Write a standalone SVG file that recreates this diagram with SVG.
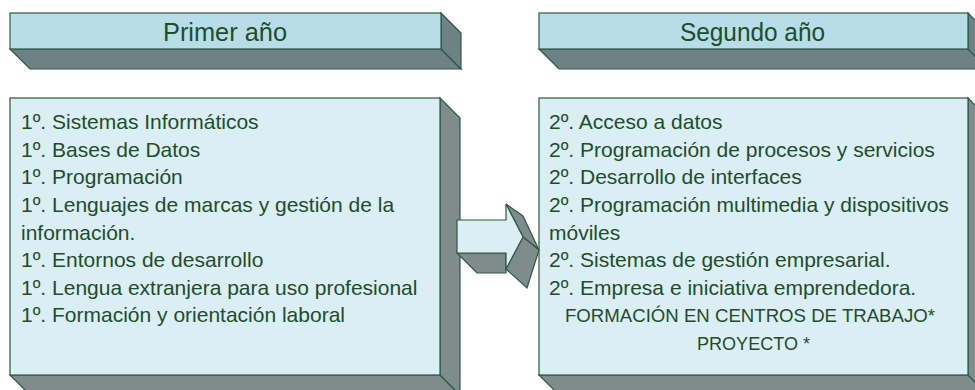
<svg xmlns="http://www.w3.org/2000/svg" width="975" height="390" viewBox="0 0 975 390">
<style>
.hf{fill:#B7DDE8;stroke:#2B5A40;stroke-width:1.2}
.hs{fill:#6E8286;stroke:#2B5A40;stroke-width:1.2}
.bf{fill:#DAEEF3;stroke:#2B5A40;stroke-width:1.2}
.bs{fill:#7F8C8C;stroke:#2B5A40;stroke-width:1.2}
.ht{font-family:"Liberation Sans",Arial,sans-serif;font-size:25px;fill:#1E4D2B}
.t{font-family:"Liberation Sans",Arial,sans-serif;font-size:21px;fill:#1E4D2B}
.c{font-family:"Liberation Sans",Arial,sans-serif;font-size:19px;fill:#1E4D2B}
</style>
<rect width="975" height="390" fill="#FFFFFF"/>
<g id="header1">
<polygon class="hs" points="10,49 441,49 461,69 30,69"/>
<polygon class="hs" points="441,13 461,33 461,69 441,49"/>
<rect class="hf" x="10" y="13" width="431" height="36"/>
<text class="ht" x="163" y="41" textLength="124" lengthAdjust="spacingAndGlyphs">Primer año</text>
</g>
<g id="header2">
<polygon class="hs" points="539,49 968,49 988,69 559,69"/>
<polygon class="hs" points="968,13 988,33 988,69 968,49"/>
<rect class="hf" x="539" y="13" width="429" height="36"/>
<text class="ht" x="680" y="41" textLength="145" lengthAdjust="spacingAndGlyphs">Segundo año</text>
</g>
<g id="box1">
<polygon class="bs" points="10,375 440,375 460,395 30,395"/>
<polygon class="bs" points="440,98 460,118 460,395 440,375"/>
<rect class="bf" x="10" y="98" width="430" height="277"/>
<text class="t" x="21" y="129">1º. Sistemas Informáticos</text>
<text class="t" x="21" y="156.7">1º. Bases de Datos</text>
<text class="t" x="21" y="184.3">1º. Programación</text>
<text class="t" x="21" y="212">1º. Lenguajes de marcas y gestión de la</text>
<text class="t" x="21" y="239.6">información.</text>
<text class="t" x="21" y="267.2">1º. Entornos de desarrollo</text>
<text class="t" x="21" y="294.8">1º. Lengua extranjera para uso profesional</text>
<text class="t" x="21" y="322.4">1º. Formación y orientación laboral</text>
</g>
<g id="box2">
<polygon class="bs" points="539,375 968,375 988,395 559,395"/>
<polygon class="bs" points="968,98 988,118 988,395 968,375"/>
<rect class="bf" x="539" y="98" width="429" height="277"/>
<text class="t" x="549" y="129">2º. Acceso a datos</text>
<text class="t" x="549" y="156.7">2º. Programación de procesos y servicios</text>
<text class="t" x="549" y="184.3">2º. Desarrollo de interfaces</text>
<text class="t" x="549" y="212">2º. Programación multimedia y dispositivos</text>
<text class="t" x="549" y="239.6">móviles</text>
<text class="t" x="549" y="267.2">2º. Sistemas de gestión empresarial.</text>
<text class="t" x="549" y="294.8">2º. Empresa e iniciativa emprendedora.</text>
<text class="c" x="565" y="322.4" textLength="370" lengthAdjust="spacingAndGlyphs">FORMACIÓN EN CENTROS DE TRABAJO*</text>
<text class="c" x="697" y="350" textLength="113" lengthAdjust="spacingAndGlyphs">PROYECTO *</text>
</g>
<g id="connectors">
<polygon class="bs" points="457,253 477,273 506,273 506,253"/>
<polygon class="bs" points="506,204 523,216 539,250 523,237"/>
<polygon class="bs" points="523,237 539,250 527,288 506,269"/>
<polygon class="bf" points="457,220 506,220 506,204 523,237 506,269 506,253 457,253"/>
</g>
</svg>
